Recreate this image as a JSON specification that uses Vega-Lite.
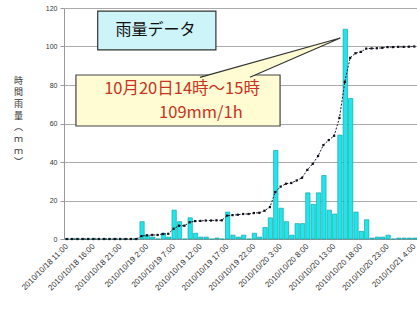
{
  "$schema": "https://vega.github.io/schema/vega-lite/v6.json",
  "width": 353,
  "height": 231,
  "autosize": {"type": "none"},
  "padding": {"left": 64, "top": 8, "right": 0, "bottom": 70},
  "background": "white",
  "config": {
    "view": {"stroke": null},
    "font": "Noto Sans CJK JP"
  },
  "datasets": {
    "rain": [
      {"t": "2010-10-18T11:00:00Z", "rain": 0, "cum": 0},
      {"t": "2010-10-18T12:00:00Z", "rain": 0, "cum": 0},
      {"t": "2010-10-18T13:00:00Z", "rain": 0, "cum": 0},
      {"t": "2010-10-18T14:00:00Z", "rain": 0, "cum": 0},
      {"t": "2010-10-18T15:00:00Z", "rain": 0, "cum": 0},
      {"t": "2010-10-18T16:00:00Z", "rain": 0, "cum": 0},
      {"t": "2010-10-18T17:00:00Z", "rain": 0, "cum": 0},
      {"t": "2010-10-18T18:00:00Z", "rain": 0, "cum": 0},
      {"t": "2010-10-18T19:00:00Z", "rain": 0, "cum": 0},
      {"t": "2010-10-18T20:00:00Z", "rain": 0, "cum": 0},
      {"t": "2010-10-18T21:00:00Z", "rain": 0, "cum": 0},
      {"t": "2010-10-18T22:00:00Z", "rain": 0, "cum": 0},
      {"t": "2010-10-18T23:00:00Z", "rain": 0, "cum": 0},
      {"t": "2010-10-19T00:00:00Z", "rain": 0, "cum": 0},
      {"t": "2010-10-19T01:00:00Z", "rain": 9, "cum": 1.5},
      {"t": "2010-10-19T02:00:00Z", "rain": 2, "cum": 1.9},
      {"t": "2010-10-19T03:00:00Z", "rain": 1, "cum": 2.1},
      {"t": "2010-10-19T04:00:00Z", "rain": 0, "cum": 2.1},
      {"t": "2010-10-19T05:00:00Z", "rain": 3, "cum": 2.6},
      {"t": "2010-10-19T06:00:00Z", "rain": 1, "cum": 2.7},
      {"t": "2010-10-19T07:00:00Z", "rain": 15, "cum": 5.3},
      {"t": "2010-10-19T08:00:00Z", "rain": 9, "cum": 6.9},
      {"t": "2010-10-19T09:00:00Z", "rain": 0, "cum": 6.9},
      {"t": "2010-10-19T10:00:00Z", "rain": 11, "cum": 8.7},
      {"t": "2010-10-19T11:00:00Z", "rain": 3, "cum": 9.3},
      {"t": "2010-10-19T12:00:00Z", "rain": 1, "cum": 9.4},
      {"t": "2010-10-19T13:00:00Z", "rain": 1, "cum": 9.6},
      {"t": "2010-10-19T14:00:00Z", "rain": 0, "cum": 9.6},
      {"t": "2010-10-19T15:00:00Z", "rain": 0.5, "cum": 9.7},
      {"t": "2010-10-19T16:00:00Z", "rain": 0, "cum": 9.7},
      {"t": "2010-10-19T17:00:00Z", "rain": 14, "cum": 12.1},
      {"t": "2010-10-19T18:00:00Z", "rain": 2, "cum": 12.4},
      {"t": "2010-10-19T19:00:00Z", "rain": 1, "cum": 12.6},
      {"t": "2010-10-19T20:00:00Z", "rain": 2, "cum": 13.0},
      {"t": "2010-10-19T21:00:00Z", "rain": 0, "cum": 13.0},
      {"t": "2010-10-19T22:00:00Z", "rain": 3, "cum": 13.5},
      {"t": "2010-10-19T23:00:00Z", "rain": 1, "cum": 13.6},
      {"t": "2010-10-20T00:00:00Z", "rain": 6, "cum": 14.7},
      {"t": "2010-10-20T01:00:00Z", "rain": 11, "cum": 16.6},
      {"t": "2010-10-20T02:00:00Z", "rain": 46, "cum": 24.4},
      {"t": "2010-10-20T03:00:00Z", "rain": 16, "cum": 27.2},
      {"t": "2010-10-20T04:00:00Z", "rain": 9, "cum": 28.7},
      {"t": "2010-10-20T05:00:00Z", "rain": 2, "cum": 29.1},
      {"t": "2010-10-20T06:00:00Z", "rain": 8, "cum": 30.4},
      {"t": "2010-10-20T07:00:00Z", "rain": 8, "cum": 31.8},
      {"t": "2010-10-20T08:00:00Z", "rain": 24, "cum": 35.9},
      {"t": "2010-10-20T09:00:00Z", "rain": 18, "cum": 39.0},
      {"t": "2010-10-20T10:00:00Z", "rain": 24, "cum": 43.1},
      {"t": "2010-10-20T11:00:00Z", "rain": 33, "cum": 48.8},
      {"t": "2010-10-20T12:00:00Z", "rain": 15, "cum": 51.4},
      {"t": "2010-10-20T13:00:00Z", "rain": 13, "cum": 53.6},
      {"t": "2010-10-20T14:00:00Z", "rain": 54, "cum": 62.9},
      {"t": "2010-10-20T15:00:00Z", "rain": 109, "cum": 81.6},
      {"t": "2010-10-20T16:00:00Z", "rain": 73, "cum": 94.1},
      {"t": "2010-10-20T17:00:00Z", "rain": 14, "cum": 96.5},
      {"t": "2010-10-20T18:00:00Z", "rain": 4, "cum": 97.2},
      {"t": "2010-10-20T19:00:00Z", "rain": 10, "cum": 98.9},
      {"t": "2010-10-20T20:00:00Z", "rain": 0.5, "cum": 99.0},
      {"t": "2010-10-20T21:00:00Z", "rain": 1, "cum": 99.1},
      {"t": "2010-10-20T22:00:00Z", "rain": 1, "cum": 99.3},
      {"t": "2010-10-20T23:00:00Z", "rain": 2, "cum": 99.7},
      {"t": "2010-10-21T00:00:00Z", "rain": 0, "cum": 99.7},
      {"t": "2010-10-21T01:00:00Z", "rain": 0.5, "cum": 99.8},
      {"t": "2010-10-21T02:00:00Z", "rain": 0.5, "cum": 99.8},
      {"t": "2010-10-21T03:00:00Z", "rain": 0.5, "cum": 99.9},
      {"t": "2010-10-21T04:00:00Z", "rain": 0.5, "cum": 100}
    ],
    "titleBox": [
      {"x1": "2010-10-18T17:18:00Z", "x2": "2010-10-19T15:24:00Z", "y1": 118.4, "y2": 98.2, "xm": "2010-10-19T04:06:00Z", "ym": 108.6, "label": "雨量データ"}
    ],
    "callBox": [
      {"x1": "2010-10-18T13:14:00Z", "x2": "2010-10-20T03:24:00Z", "y1": 85.2, "y2": 58.7}
    ],
    "pointer": [
      {"o": 1, "x": "2010-10-19T12:25:00Z", "y": 84.0},
      {"o": 2, "x": "2010-10-20T14:40:00Z", "y": 104.4},
      {"o": 3, "x": "2010-10-19T21:46:00Z", "y": 84.0}
    ],
    "callText": [
      {"x": "2010-10-19T09:04:00Z", "y": 77.8, "label": "10月20日14時～15時"},
      {"x": "2010-10-19T12:36:00Z", "y": 65.6, "label": "109mm/1h"}
    ]
  },
  "layer": [
    {
      "data": {"name": "rain"},
      "mark": {"type": "bar", "fill": "#1fe6ea", "stroke": "#0a9aa0", "strokeWidth": 0.6},
      "encoding": {
        "x": {
          "field": "t", "type": "temporal", "timeUnit": "utcyearmonthdatehours",
          "scale": {"type": "utc", "domain": [
            {"year": 2010, "month": "Oct", "date": 18, "hours": 11, "utc": true},
            {"year": 2010, "month": "Oct", "date": 21, "hours": 5, "utc": true}
          ], "nice": false},
          "axis": {
            "title": null,
            "grid": false,
            "ticks": false,
            "domain": true,
            "domainColor": "#999",
            "tickCount": 100,
            "values": [
              {"year": 2010, "month": "Oct", "date": 18, "hours": 11, "minutes": 30, "utc": true},
              {"year": 2010, "month": "Oct", "date": 18, "hours": 16, "minutes": 30, "utc": true},
              {"year": 2010, "month": "Oct", "date": 18, "hours": 21, "minutes": 30, "utc": true},
              {"year": 2010, "month": "Oct", "date": 19, "hours": 2, "minutes": 30, "utc": true},
              {"year": 2010, "month": "Oct", "date": 19, "hours": 7, "minutes": 30, "utc": true},
              {"year": 2010, "month": "Oct", "date": 19, "hours": 12, "minutes": 30, "utc": true},
              {"year": 2010, "month": "Oct", "date": 19, "hours": 17, "minutes": 30, "utc": true},
              {"year": 2010, "month": "Oct", "date": 19, "hours": 22, "minutes": 30, "utc": true},
              {"year": 2010, "month": "Oct", "date": 20, "hours": 3, "minutes": 30, "utc": true},
              {"year": 2010, "month": "Oct", "date": 20, "hours": 8, "minutes": 30, "utc": true},
              {"year": 2010, "month": "Oct", "date": 20, "hours": 13, "minutes": 30, "utc": true},
              {"year": 2010, "month": "Oct", "date": 20, "hours": 18, "minutes": 30, "utc": true},
              {"year": 2010, "month": "Oct", "date": 20, "hours": 23, "minutes": 30, "utc": true},
              {"year": 2010, "month": "Oct", "date": 21, "hours": 4, "minutes": 30, "utc": true}
            ],
            "labelExpr": "utcFormat(datum.value, '%Y/%m/%d %-H:00')",
            "labelAngle": -45,
            "labelAlign": "right",
            "labelBaseline": "middle",
            "labelPadding": 6,
            "labelFontSize": 8,
            "labelColor": "#333",
            "labelFont": "Liberation Sans",
            "labelOverlap": false,
            "labelBound": false,
            "labelFlush": false
          }
        },
        "y": {
          "field": "rain", "type": "quantitative",
          "scale": {"domain": [0, 120], "nice": false},
          "axis": {
            "values": [0, 20, 40, 60, 80, 100, 120],
            "tickCount": 50,
            "grid": true,
            "gridColor": "#aaa",
            "gridWidth": 1,
            "domainColor": "#999",
            "tickColor": "#999",
            "tickSize": 4,
            "labelFontSize": 7,
            "labelColor": "#333",
            "labelFont": "Liberation Sans",
            "labelPadding": 3,
            "labelOverlap": false,
            "title": ["時", "間", "雨", "量", "︵", "ｍ", "ｍ", "︶"],
            "titleAngle": 0,
            "titleFontSize": 9,
            "titleFontWeight": "normal",
            "titleLineHeight": 11.7,
            "titleColor": "#333",
            "titleAlign": "center",
            "titleBaseline": "top",
            "titleX": -46,
            "titleY": 68
          }
        }
      }
    },
    {
      "data": {"name": "rain"},
      "mark": {"type": "line", "stroke": "#1a1a3a", "strokeWidth": 1, "strokeDash": [2, 1.5],
        "point": {"filled": true, "shape": "square", "size": 5, "color": "#111"}},
      "encoding": {
        "x": {"field": "t", "type": "temporal", "timeUnit": "utcyearmonthdatehours", "bandPosition": 0.5},
        "y": {"field": "cum", "type": "quantitative"}
      }
    },
    {
      "data": {"name": "titleBox"},
      "mark": {"type": "rect", "fill": "#cdf4f8", "stroke": "#333", "strokeWidth": 1.2},
      "encoding": {
        "x": {"field": "x1", "type": "temporal"},
        "x2": {"field": "x2"},
        "y": {"field": "y1", "type": "quantitative"},
        "y2": {"field": "y2"}
      }
    },
    {
      "data": {"name": "titleBox"},
      "mark": {"type": "text", "fontSize": 16, "color": "#111", "align": "center", "baseline": "middle", "font": "Noto Sans CJK JP"},
      "encoding": {
        "x": {"field": "xm", "type": "temporal"},
        "y": {"field": "ym", "type": "quantitative"},
        "text": {"field": "label"}
      }
    },
    {
      "data": {"name": "callBox"},
      "mark": {"type": "rect", "fill": "#fffbd2", "stroke": "#444", "strokeWidth": 1.2},
      "encoding": {
        "x": {"field": "x1", "type": "temporal"},
        "x2": {"field": "x2"},
        "y": {"field": "y1", "type": "quantitative"},
        "y2": {"field": "y2"}
      }
    },
    {
      "data": {"name": "pointer"},
      "mark": {"type": "line", "fill": "#fffbd2", "stroke": "#333", "strokeWidth": 1.2},
      "encoding": {
        "x": {"field": "x", "type": "temporal"},
        "y": {"field": "y", "type": "quantitative"},
        "order": {"field": "o"}
      }
    },
    {
      "data": {"name": "callText"},
      "mark": {"type": "text", "fontSize": 16.5, "color": "#c8321e", "align": "center", "baseline": "middle", "font": "Noto Sans CJK JP"},
      "encoding": {
        "x": {"field": "x", "type": "temporal"},
        "y": {"field": "y", "type": "quantitative"},
        "text": {"field": "label"}
      }
    }
  ]
}
